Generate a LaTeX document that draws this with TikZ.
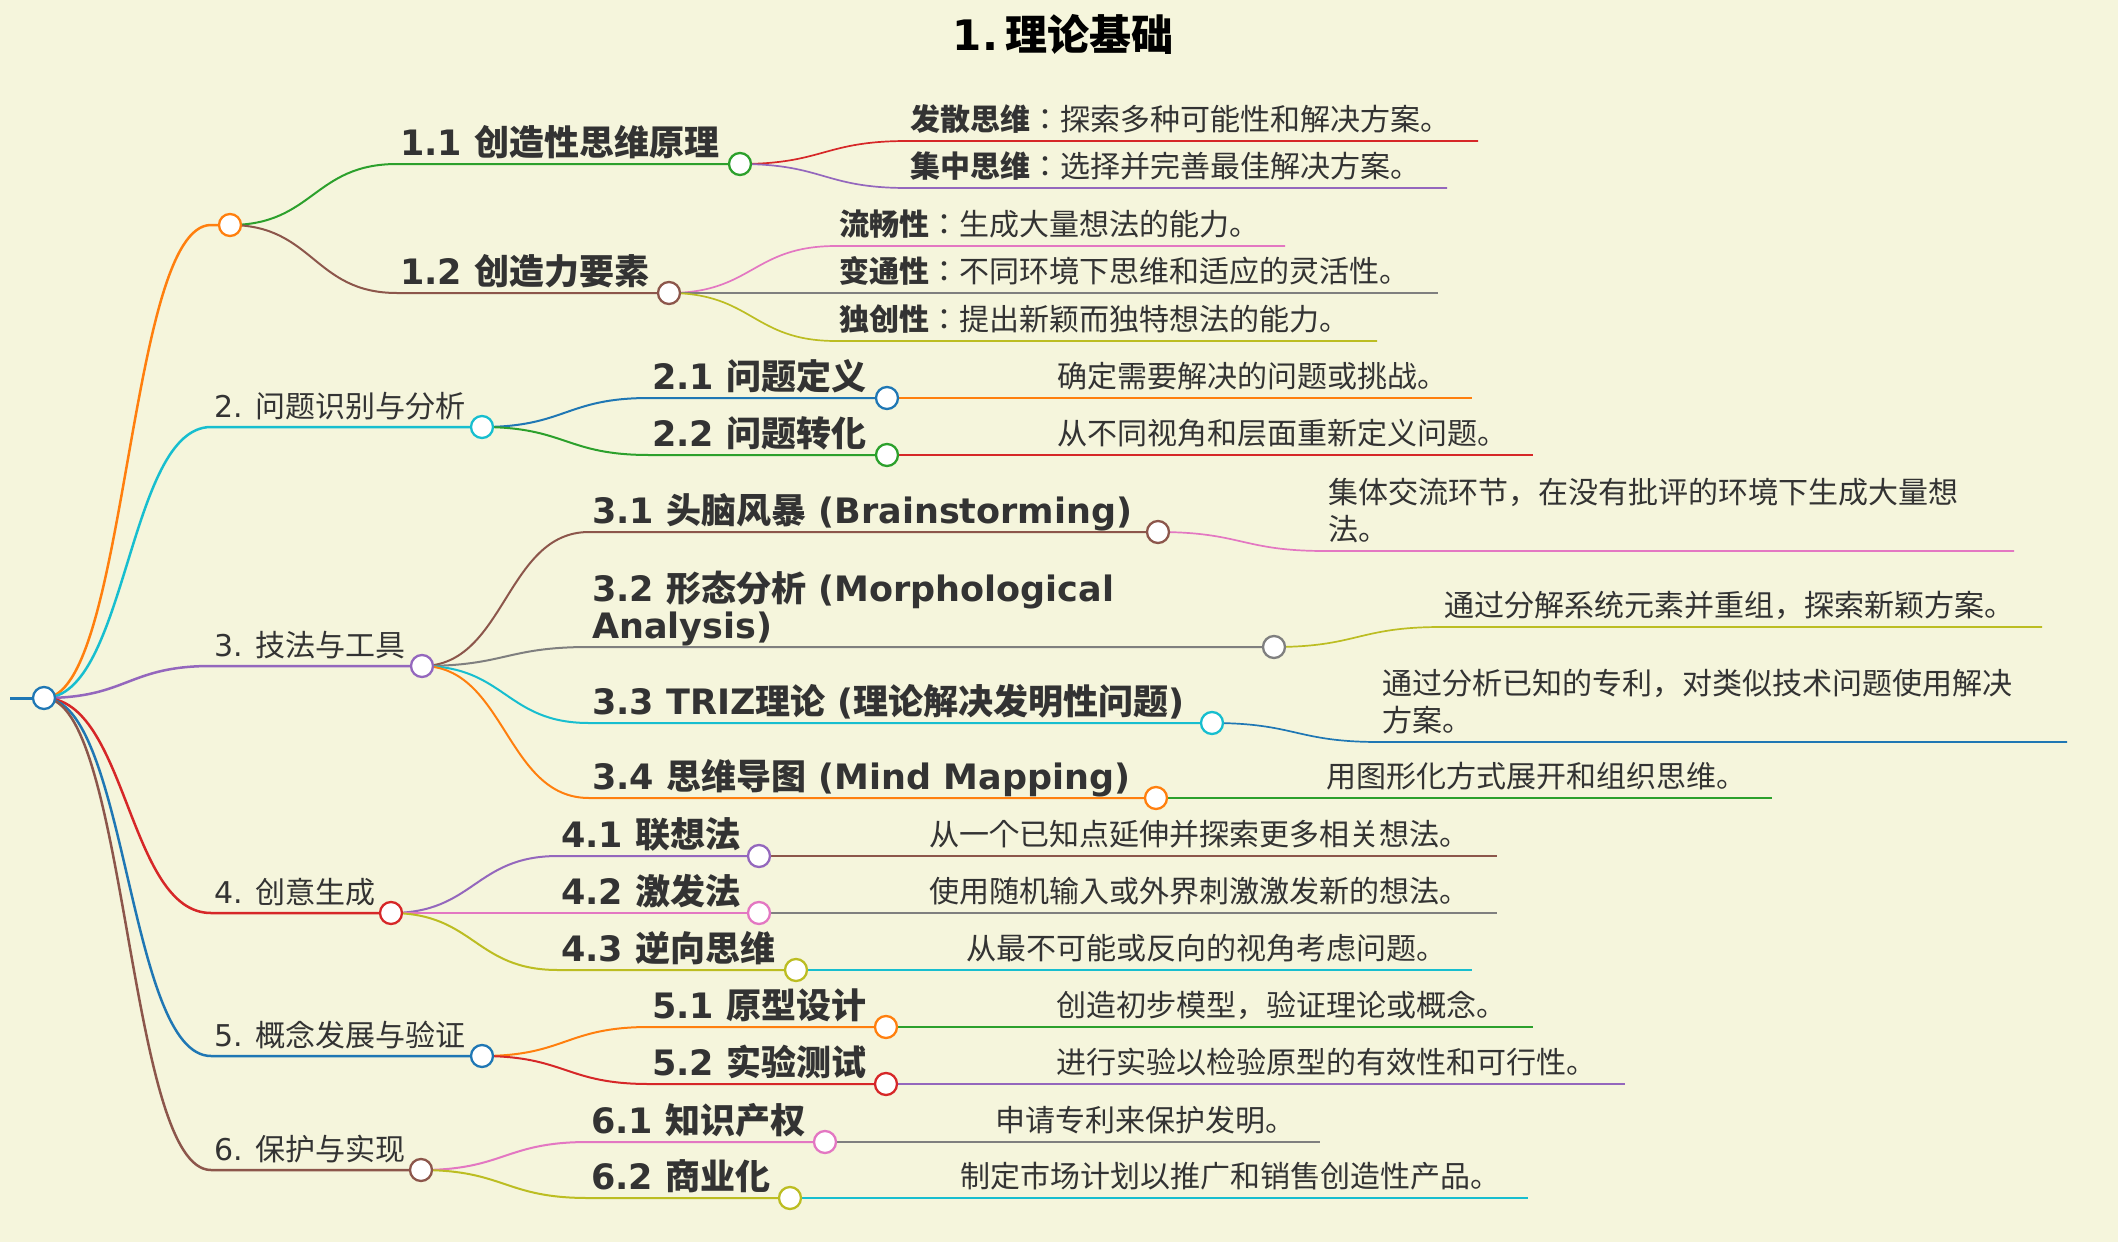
\documentclass[tikz,border=0pt]{standalone}
\usepackage{fontspec}
\setmainfont{DejaVu Sans}
\newfontfamily\zhfont{Noto Sans CJK JP}
\newcommand\zh[1]{{\zhfont #1}}

\definecolor{paper}{HTML}{F5F5DC}
\definecolor{ink}{HTML}{333333}
\definecolor{cblue}{HTML}{1F77B4}
\definecolor{corange}{HTML}{FF7F0E}
\definecolor{cgreen}{HTML}{2CA02C}
\definecolor{cred}{HTML}{D62728}
\definecolor{cpurple}{HTML}{9467BD}
\definecolor{cbrown}{HTML}{8C564B}
\definecolor{cpink}{HTML}{E377C2}
\definecolor{cgray}{HTML}{7F7F7F}
\definecolor{colive}{HTML}{BCBD22}
\definecolor{ccyan}{HTML}{17BECF}

\pgfdeclarelayer{paperlayer}
\pgfdeclarelayer{wirelayer}
\pgfsetlayers{paperlayer,wirelayer,main}

\tikzset{
  knob/.style={circle, draw=#1, fill=white, line width=2.3pt, minimum size=22pt, inner sep=0pt},
  branch/.style={to path={.. controls +(83.5,0) and +(-83.5,0) .. (\tikztotarget)}},
  wone/.style={line width=2.5pt},
  wtwo/.style={line width=2pt},
  wleaf/.style={line width=1.7pt},
  lvone/.style={anchor=base west, font=\fontsize{30}{36}\selectfont},
  lvtwo/.style={anchor=base west, align=left, font=\fontsize{35}{37}\selectfont\bfseries},
  leaf/.style={anchor=base west, align=left, font=\fontsize{30}{37}\selectfont\zhfont},
}

\begin{document}
\begin{tikzpicture}[x=1pt,y=-1pt]
\tikzstyle{every node}=[inner sep=0pt, text=ink]
\useasboundingbox (0,0) rectangle (2118,1242);
\begin{pgfonlayer}{paperlayer}
\fill[paper] (0,0) rectangle (2118,1242);
\end{pgfonlayer}

\node[font=\fontsize{42}{50}\selectfont\bfseries, text=black] (title) at (1063,34) {1.\,\zh{理论基础}};

% root
\coordinate (r0s) at (10,698);
\node[knob=cblue] (r0) at (44,698) {};

% level 1
\coordinate (n1s) at (211,225); \node[knob=corange] (n1) at (230,225) {};
\coordinate (n2s) at (211,427); \node[knob=ccyan] (n2) at (482,427) {};
\coordinate (n3s) at (211,666); \node[knob=cpurple] (n3) at (422,666) {};
\coordinate (n4s) at (211,913); \node[knob=cred] (n4) at (391,913) {};
\coordinate (n5s) at (211,1056); \node[knob=cblue] (n5) at (482,1056) {};
\coordinate (n6s) at (211,1170); \node[knob=cbrown] (n6) at (421,1170) {};
\node[lvone] (t2) at (214,417) {2. \zh{问题识别与分析}};
\node[lvone] (t3) at (214,656) {3. \zh{技法与工具}};
\node[lvone] (t4) at (214,903) {4. \zh{创意生成}};
\node[lvone] (t5) at (214,1046) {5. \zh{概念发展与验证}};
\node[lvone] (t6) at (214,1160) {6. \zh{保护与实现}};

% level 2
\coordinate (n11s) at (397,164); \node[knob=cgreen] (n11) at (740,164) {};
\coordinate (n12s) at (397,293); \node[knob=cbrown] (n12) at (669,293) {};
\coordinate (n21s) at (649,398); \node[knob=cblue] (n21) at (887,398) {};
\coordinate (n22s) at (649,455); \node[knob=cgreen] (n22) at (887,455) {};
\coordinate (n31s) at (589,532); \node[knob=cbrown] (n31) at (1158,532) {};
\coordinate (n32s) at (589,647); \node[knob=cgray] (n32) at (1274,647) {};
\coordinate (n33s) at (589,723); \node[knob=ccyan] (n33) at (1212,723) {};
\coordinate (n34s) at (589,798); \node[knob=corange] (n34) at (1156,798) {};
\coordinate (n41s) at (558,856); \node[knob=cpurple] (n41) at (759,856) {};
\coordinate (n42s) at (558,913); \node[knob=cpink] (n42) at (759,913) {};
\coordinate (n43s) at (558,970); \node[knob=colive] (n43) at (796,970) {};
\coordinate (n51s) at (649,1027); \node[knob=corange] (n51) at (886,1027) {};
\coordinate (n52s) at (649,1084); \node[knob=cred] (n52) at (886,1084) {};
\coordinate (n61s) at (588,1142); \node[knob=cpink] (n61) at (825,1142) {};
\coordinate (n62s) at (588,1198); \node[knob=colive] (n62) at (790,1198) {};
\node[lvtwo] (t11) at (400,155) {1.1 \zh{创造性思维原理}};
\node[lvtwo] (t12) at (400,284) {1.2 \zh{创造力要素}};
\node[lvtwo] (t21) at (652,389) {2.1 \zh{问题定义}};
\node[lvtwo] (t22) at (652,446) {2.2 \zh{问题转化}};
\node[lvtwo] (t31) at (592,523) {3.1 \zh{头脑风暴} (Brainstorming)};
\node[lvtwo] (t32) at (592,638) {3.2 \zh{形态分析} (Morphological\\Analysis)};
\node[lvtwo] (t33) at (592,714) {3.3 TRIZ\zh{理论} (\zh{理论解决发明性问题})};
\node[lvtwo] (t34) at (592,789) {3.4 \zh{思维导图} (Mind Mapping)};
\node[lvtwo] (t41) at (561,847) {4.1 \zh{联想法}};
\node[lvtwo] (t42) at (561,904) {4.2 \zh{激发法}};
\node[lvtwo] (t43) at (561,961) {4.3 \zh{逆向思维}};
\node[lvtwo] (t51) at (652,1018) {5.1 \zh{原型设计}};
\node[lvtwo] (t52) at (652,1075) {5.2 \zh{实验测试}};
\node[lvtwo] (t61) at (591,1133) {6.1 \zh{知识产权}};
\node[lvtwo] (t62) at (591,1189) {6.2 \zh{商业化}};

% leaves
\coordinate (l11as) at (907,141); \coordinate (l11ae) at (1478,141);
\coordinate (l11bs) at (907,188); \coordinate (l11be) at (1447,188);
\coordinate (l12as) at (836,246); \coordinate (l12ae) at (1285,246);
\coordinate (l12bs) at (836,293); \coordinate (l12be) at (1438,293);
\coordinate (l12cs) at (836,341); \coordinate (l12ce) at (1377,341);
\coordinate (l21s) at (1054,398); \coordinate (l21e) at (1472,398);
\coordinate (l22s) at (1054,455); \coordinate (l22e) at (1533,455);
\coordinate (l31s) at (1325,551); \coordinate (l31e) at (2014,551);
\coordinate (l32s) at (1441,627); \coordinate (l32e) at (2042,627);
\coordinate (l33s) at (1379,742); \coordinate (l33e) at (2067,742);
\coordinate (l34s) at (1323,798); \coordinate (l34e) at (1772,798);
\coordinate (l41s) at (926,856); \coordinate (l41e) at (1497,856);
\coordinate (l42s) at (926,913); \coordinate (l42e) at (1497,913);
\coordinate (l43s) at (963,970); \coordinate (l43e) at (1472,970);
\coordinate (l51s) at (1053,1027); \coordinate (l51e) at (1533,1027);
\coordinate (l52s) at (1053,1084); \coordinate (l52e) at (1625,1084);
\coordinate (l61s) at (992,1142); \coordinate (l61e) at (1320,1142);
\coordinate (l62s) at (957,1198); \coordinate (l62e) at (1528,1198);
\node[leaf] (u11a) at (910,130) {\textbf{发散思维}：探索多种可能性和解决方案。};
\node[leaf] (u11b) at (910,177) {\textbf{集中思维}：选择并完善最佳解决方案。};
\node[leaf] (u12a) at (839,235) {\textbf{流畅性}：生成大量想法的能力。};
\node[leaf] (u12b) at (839,282) {\textbf{变通性}：不同环境下思维和适应的灵活性。};
\node[leaf] (u12c) at (839,330) {\textbf{独创性}：提出新颖而独特想法的能力。};
\node[leaf] (u21) at (1057,387) {确定需要解决的问题或挑战。};
\node[leaf] (u22) at (1057,444) {从不同视角和层面重新定义问题。};
\node[leaf] (u31) at (1328,540) {集体交流环节，在没有批评的环境下生成大量想\\法。};
\node[leaf] (u32) at (1444,616) {通过分解系统元素并重组，探索新颖方案。};
\node[leaf] (u33) at (1382,731) {通过分析已知的专利，对类似技术问题使用解决\\方案。};
\node[leaf] (u34) at (1326,787) {用图形化方式展开和组织思维。};
\node[leaf] (u41) at (929,845) {从一个已知点延伸并探索更多相关想法。};
\node[leaf] (u42) at (929,902) {使用随机输入或外界刺激激发新的想法。};
\node[leaf] (u43) at (966,959) {从最不可能或反向的视角考虑问题。};
\node[leaf] (u51) at (1056,1016) {创造初步模型，验证理论或概念。};
\node[leaf] (u52) at (1056,1073) {进行实验以检验原型的有效性和可行性。};
\node[leaf] (u61) at (995,1131) {申请专利来保护发明。};
\node[leaf] (u62) at (960,1187) {制定市场计划以推广和销售创造性产品。};

\begin{pgfonlayer}{wirelayer}
\draw[cblue, line width=3pt] (r0s) -- (r0);
% root to level 1
\draw[corange, wone] (r0.center) to[branch] (n1s) -- (n1);
\draw[ccyan, wone] (r0.center) to[branch] (n2s) -- (n2);
\draw[cpurple, wone] (r0.center) to[branch] (n3s) -- (n3);
\draw[cred, wone] (r0.center) to[branch] (n4s) -- (n4);
\draw[cblue, wone] (r0.center) to[branch] (n5s) -- (n5);
\draw[cbrown, wone] (r0.center) to[branch] (n6s) -- (n6);
% level 1 to level 2
\draw[cgreen, wtwo] (n1.center) to[branch] (n11s) -- (n11);
\draw[cbrown, wtwo] (n1.center) to[branch] (n12s) -- (n12);
\draw[cblue, wtwo] (n2.center) to[branch] (n21s) -- (n21);
\draw[cgreen, wtwo] (n2.center) to[branch] (n22s) -- (n22);
\draw[cbrown, wtwo] (n3.center) to[branch] (n31s) -- (n31);
\draw[cgray, wtwo] (n3.center) to[branch] (n32s) -- (n32);
\draw[ccyan, wtwo] (n3.center) to[branch] (n33s) -- (n33);
\draw[corange, wtwo] (n3.center) to[branch] (n34s) -- (n34);
\draw[cpurple, wtwo] (n4.center) to[branch] (n41s) -- (n41);
\draw[cpink, wtwo] (n4.center) to[branch] (n42s) -- (n42);
\draw[colive, wtwo] (n4.center) to[branch] (n43s) -- (n43);
\draw[corange, wtwo] (n5.center) to[branch] (n51s) -- (n51);
\draw[cred, wtwo] (n5.center) to[branch] (n52s) -- (n52);
\draw[cpink, wtwo] (n6.center) to[branch] (n61s) -- (n61);
\draw[colive, wtwo] (n6.center) to[branch] (n62s) -- (n62);
% level 2 to leaves
\draw[cred, wleaf] (n11.center) to[branch] (l11as) -- (l11ae);
\draw[cpurple, wleaf] (n11.center) to[branch] (l11bs) -- (l11be);
\draw[cpink, wleaf] (n12.center) to[branch] (l12as) -- (l12ae);
\draw[cgray, wleaf] (n12.center) to[branch] (l12bs) -- (l12be);
\draw[colive, wleaf] (n12.center) to[branch] (l12cs) -- (l12ce);
\draw[corange, wleaf] (n21.center) to[branch] (l21s) -- (l21e);
\draw[cred, wleaf] (n22.center) to[branch] (l22s) -- (l22e);
\draw[cpink, wleaf] (n31.center) to[branch] (l31s) -- (l31e);
\draw[colive, wleaf] (n32.center) to[branch] (l32s) -- (l32e);
\draw[cblue, wleaf] (n33.center) to[branch] (l33s) -- (l33e);
\draw[cgreen, wleaf] (n34.center) to[branch] (l34s) -- (l34e);
\draw[cbrown, wleaf] (n41.center) to[branch] (l41s) -- (l41e);
\draw[cgray, wleaf] (n42.center) to[branch] (l42s) -- (l42e);
\draw[ccyan, wleaf] (n43.center) to[branch] (l43s) -- (l43e);
\draw[cgreen, wleaf] (n51.center) to[branch] (l51s) -- (l51e);
\draw[cpurple, wleaf] (n52.center) to[branch] (l52s) -- (l52e);
\draw[cgray, wleaf] (n61.center) to[branch] (l61s) -- (l61e);
\draw[ccyan, wleaf] (n62.center) to[branch] (l62s) -- (l62e);
\end{pgfonlayer}
\end{tikzpicture}
\end{document}
